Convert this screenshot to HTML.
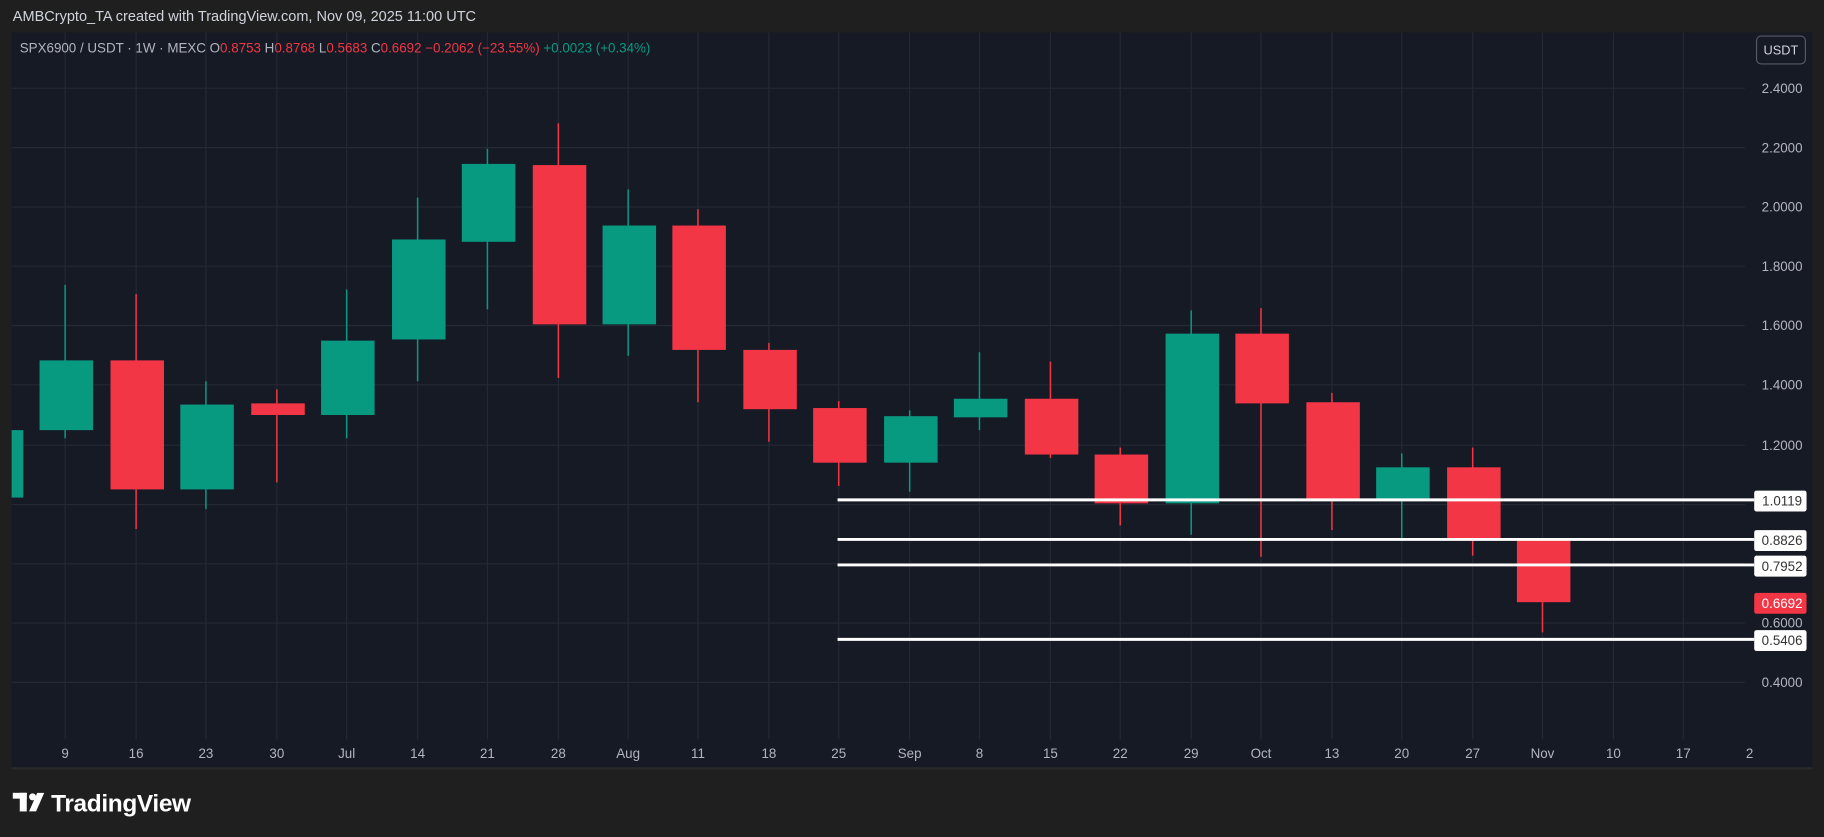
<!DOCTYPE html>
<html><head><meta charset="utf-8"><style>
html,body{margin:0;padding:0;background:#1f1f1f;overflow:hidden}
svg{display:block}
text{font-family:"Liberation Sans",sans-serif}
</style></head><body>
<svg width="1824" height="837" viewBox="0 0 1568 720" preserveAspectRatio="none" xmlns="http://www.w3.org/2000/svg">
<rect width="1568" height="720" fill="#1f1f1f"/>
<text x="11" y="18" fill="#d1d4dc" font-size="12.5">AMBCrypto_TA created with TradingView.com, Nov 09, 2025 11:00 UTC</text>
<rect x="10" y="28" width="1548" height="634" fill="#161a25"/>
<g stroke="#252935" stroke-width="1">
<line x1="10" x2="1500" y1="76" y2="76"/><line x1="10" x2="1500" y1="127" y2="127"/><line x1="10" x2="1500" y1="178" y2="178"/><line x1="10" x2="1500" y1="229" y2="229"/><line x1="10" x2="1500" y1="280" y2="280"/><line x1="10" x2="1500" y1="331" y2="331"/><line x1="10" x2="1500" y1="383" y2="383"/><line x1="10" x2="1500" y1="434" y2="434"/><line x1="10" x2="1500" y1="485" y2="485"/><line x1="10" x2="1500" y1="536" y2="536"/><line x1="10" x2="1500" y1="587" y2="587"/>
<line x1="56" x2="56" y1="28" y2="636"/><line x1="117" x2="117" y1="28" y2="636"/><line x1="177" x2="177" y1="28" y2="636"/><line x1="238" x2="238" y1="28" y2="636"/><line x1="298" x2="298" y1="28" y2="636"/><line x1="359" x2="359" y1="28" y2="636"/><line x1="419" x2="419" y1="28" y2="636"/><line x1="480" x2="480" y1="28" y2="636"/><line x1="540" x2="540" y1="28" y2="636"/><line x1="600" x2="600" y1="28" y2="636"/><line x1="661" x2="661" y1="28" y2="636"/><line x1="721" x2="721" y1="28" y2="636"/><line x1="782" x2="782" y1="28" y2="636"/><line x1="842" x2="842" y1="28" y2="636"/><line x1="903" x2="903" y1="28" y2="636"/><line x1="963" x2="963" y1="28" y2="636"/><line x1="1024" x2="1024" y1="28" y2="636"/><line x1="1084" x2="1084" y1="28" y2="636"/><line x1="1145" x2="1145" y1="28" y2="636"/><line x1="1205" x2="1205" y1="28" y2="636"/><line x1="1266" x2="1266" y1="28" y2="636"/><line x1="1326" x2="1326" y1="28" y2="636"/><line x1="1387" x2="1387" y1="28" y2="636"/><line x1="1447" x2="1447" y1="28" y2="636"/>
</g>
<text x="17" y="45" font-size="11.5" fill="#b2b5be">SPX6900 / USDT · 1W · MEXC  <tspan>O</tspan><tspan fill="#f23645">0.8753</tspan>  H<tspan fill="#f23645">0.8768</tspan>  L<tspan fill="#f23645">0.5683</tspan>  C<tspan fill="#f23645">0.6692  −0.2062 (−23.55%)</tspan>  <tspan fill="#089981">+0.0023 (+0.34%)</tspan></text>
<rect x="1510" y="31" width="42" height="24" rx="4" fill="#161a25" stroke="#555a66"/>
<text x="1531" y="47" font-size="11" fill="#d1d4dc" text-anchor="middle">USDT</text>
<g font-size="11.5" fill="#b2b5be" text-anchor="middle">
<text x="1532" y="80">2.4000</text><text x="1532" y="131">2.2000</text><text x="1532" y="182">2.0000</text><text x="1532" y="233">1.8000</text><text x="1532" y="284">1.6000</text><text x="1532" y="335">1.4000</text><text x="1532" y="387">1.2000</text><text x="1532" y="540">0.6000</text><text x="1532" y="591">0.4000</text>
</g>
<g stroke-width="1.3">
<g fill="#089981" stroke="#089981">
<rect x="10" y="370" width="10" height="58" stroke="none"/>
<line x1="56" x2="56" y1="245" y2="377"/><rect x="34" y="310" width="46" height="60" stroke="none"/>
<line x1="177" x2="177" y1="328" y2="438"/><rect x="155" y="348" width="46" height="73" stroke="none"/>
<line x1="298" x2="298" y1="249" y2="377"/><rect x="276" y="293" width="46" height="64" stroke="none"/>
<line x1="359" x2="359" y1="170" y2="328"/><rect x="337" y="206" width="46" height="86" stroke="none"/>
<line x1="419" x2="419" y1="128" y2="266"/><rect x="397" y="141" width="46" height="67" stroke="none"/>
<line x1="540" x2="540" y1="163" y2="306"/><rect x="518" y="194" width="46" height="85" stroke="none"/>
<line x1="782" x2="782" y1="353" y2="423"/><rect x="760" y="358" width="46" height="40" stroke="none"/>
<line x1="842" x2="842" y1="303" y2="370"/><rect x="820" y="343" width="46" height="16" stroke="none"/>
<line x1="1024" x2="1024" y1="267" y2="460"/><rect x="1002" y="287" width="46" height="146" stroke="none"/>
<line x1="1205" x2="1205" y1="390" y2="465"/><rect x="1183" y="402" width="46" height="27" stroke="none"/>
</g>
<g fill="#f23645" stroke="#f23645">
<line x1="117" x2="117" y1="253" y2="455"/><rect x="95" y="310" width="46" height="111" stroke="none"/>
<line x1="238" x2="238" y1="335" y2="415"/><rect x="216" y="347" width="46" height="10" stroke="none"/>
<line x1="480" x2="480" y1="106" y2="325"/><rect x="458" y="142" width="46" height="137" stroke="none"/>
<line x1="600" x2="600" y1="180" y2="346"/><rect x="578" y="194" width="46" height="107" stroke="none"/>
<line x1="661" x2="661" y1="295" y2="380"/><rect x="639" y="301" width="46" height="51" stroke="none"/>
<line x1="721" x2="721" y1="345" y2="418"/><rect x="699" y="351" width="46" height="47" stroke="none"/>
<line x1="903" x2="903" y1="311" y2="394"/><rect x="881" y="343" width="46" height="48" stroke="none"/>
<line x1="963" x2="963" y1="385" y2="452"/><rect x="941" y="391" width="46" height="42" stroke="none"/>
<line x1="1084" x2="1084" y1="265" y2="479"/><rect x="1062" y="287" width="46" height="60" stroke="none"/>
<line x1="1145" x2="1145" y1="338" y2="456"/><rect x="1123" y="346" width="46" height="83" stroke="none"/>
<line x1="1266" x2="1266" y1="385" y2="478"/><rect x="1244" y="402" width="46" height="63" stroke="none"/>
<line x1="1326" x2="1326" y1="465" y2="544"/><rect x="1304" y="465" width="46" height="53" stroke="none"/>
</g>
</g>
<g stroke="#ffffff" stroke-width="2.5">
<line x1="720" x2="1508" y1="430" y2="430"/><line x1="720" x2="1508" y1="464" y2="464"/><line x1="720" x2="1508" y1="486" y2="486"/><line x1="720" x2="1508" y1="550" y2="550"/>
</g>
<g font-size="11.5" text-anchor="middle">
<rect x="1508" y="422" width="45" height="18" rx="2" fill="#ffffff"/><text x="1532" y="435" fill="#333">1.0119</text>
<rect x="1508" y="456" width="45" height="18" rx="2" fill="#ffffff"/><text x="1532" y="469" fill="#333">0.8826</text>
<rect x="1508" y="478" width="45" height="18" rx="2" fill="#ffffff"/><text x="1532" y="491" fill="#333">0.7952</text>
<rect x="1508" y="510" width="45" height="18" rx="2" fill="#f23645"/><text x="1532" y="523" fill="#ffffff">0.6692</text>
<rect x="1508" y="542" width="45" height="18" rx="2" fill="#ffffff"/><text x="1532" y="555" fill="#333">0.5406</text>
</g>
<g font-size="11.5" fill="#b2b5be" text-anchor="middle">
<text x="56" y="652">9</text><text x="117" y="652">16</text><text x="177" y="652">23</text><text x="238" y="652">30</text><text x="298" y="652">Jul</text><text x="359" y="652">14</text><text x="419" y="652">21</text><text x="480" y="652">28</text><text x="540" y="652">Aug</text><text x="600" y="652">11</text><text x="661" y="652">18</text><text x="721" y="652">25</text><text x="782" y="652">Sep</text><text x="842" y="652">8</text><text x="903" y="652">15</text><text x="963" y="652">22</text><text x="1024" y="652">29</text><text x="1084" y="652">Oct</text><text x="1145" y="652">13</text><text x="1205" y="652">20</text><text x="1266" y="652">27</text><text x="1326" y="652">Nov</text><text x="1387" y="652">10</text><text x="1447" y="652">17</text><text x="1504" y="652">2</text>
</g>
<rect x="10" y="660" width="1548" height="2" fill="#2a2a2a"/>
<g fill="#ffffff">
<rect x="11" y="682" width="12" height="5"/><rect x="17" y="682" width="6" height="16"/>
<circle cx="28" cy="685.5" r="3"/><polygon points="32,682 38,682 31,698 25,698"/>
</g>
<text x="44" y="698" font-size="21" font-weight="bold" fill="#ffffff" letter-spacing="-0.3">TradingView</text>
</svg>
</body></html>
